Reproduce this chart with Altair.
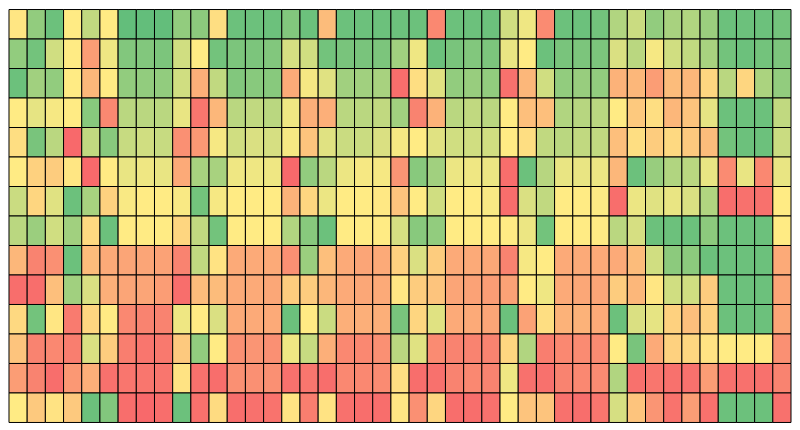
import altair as alt
import pandas as pd

# values on a 0..1 scale (0 = red, 0.5 = yellow, 1 = green), 14 rows x 43 columns
r0 = [0.48, 0.85, 0.97, 0.5, 0.7, 0.5, 1.0, 1.0, 1.0, 0.85, 0.87,
      0.45, 0.97, 0.97, 0.97, 0.9, 0.97, 0.32, 0.97, 0.97, 0.97, 0.97,
      0.97, 0.12, 0.97, 0.97, 0.97, 0.65, 0.55, 0.13, 0.97, 0.97, 0.95,
      0.75, 0.67, 0.85, 0.78, 0.75, 0.82, 0.97, 0.97, 0.97, 0.95]
r1 = [0.85, 0.95, 0.65, 0.5, 0.2, 0.55, 0.9, 0.9, 0.92, 0.65, 0.5,
      0.95, 0.92, 0.92, 0.9, 0.63, 0.65, 0.95, 0.93, 0.93, 0.92, 0.8,
      0.55, 0.97, 0.93, 0.9, 0.92, 0.57, 0.5, 0.97, 0.93, 0.92, 0.92,
      0.62, 0.72, 0.53, 0.65, 0.7, 0.78, 0.95, 0.97, 0.95, 0.92]
r2 = [0.97, 0.8, 0.85, 0.5, 0.3, 0.5, 0.85, 0.85, 0.85, 0.65, 0.27,
      0.7, 0.9, 0.88, 0.88, 0.25, 0.53, 0.6, 0.8, 0.8, 0.78, 0.02,
      0.45, 0.6, 0.85, 0.83, 0.85, 0.03, 0.3, 0.65, 0.85, 0.83, 0.85,
      0.28, 0.3, 0.2, 0.32, 0.3, 0.42, 0.72, 0.42, 0.77, 0.85]
r3 = [0.5, 0.58, 0.53, 0.5, 0.88, 0.12, 0.72, 0.72, 0.72, 0.57, 0.05,
      0.3, 0.72, 0.7, 0.72, 0.55, 0.27, 0.27, 0.72, 0.72, 0.7, 0.8,
      0.1, 0.28, 0.72, 0.7, 0.72, 0.5, 0.33, 0.33, 0.75, 0.73, 0.72,
      0.5, 0.37, 0.45, 0.3, 0.35, 0.58, 0.97, 0.97, 0.97, 0.7]
r4 = [0.45, 0.93, 0.72, 0.0, 0.7, 0.88, 0.68, 0.65, 0.68, 0.15, 0.18,
      0.53, 0.65, 0.62, 0.63, 0.53, 0.35, 0.6, 0.67, 0.67, 0.62, 0.53,
      0.5, 0.6, 0.65, 0.65, 0.65, 0.5, 0.45, 0.7, 0.72, 0.7, 0.7,
      0.33, 0.45, 0.38, 0.43, 0.37, 0.32, 0.95, 0.97, 0.97, 0.67]
r5 = [0.5, 0.4, 0.38, 0.48, 0.0, 0.5, 0.57, 0.55, 0.57, 0.25, 0.78,
      0.78, 0.55, 0.55, 0.55, 0.0, 0.85, 0.72, 0.56, 0.53, 0.53, 0.17,
      0.88, 0.8, 0.56, 0.55, 0.56, 0.02, 0.97, 0.73, 0.57, 0.57, 0.56,
      0.3, 0.97, 0.83, 0.75, 0.72, 0.57, 0.13, 0.57, 0.12, 0.57]
r6 = [0.67, 0.42, 0.6, 0.97, 0.78, 0.4, 0.52, 0.5, 0.5, 0.52, 0.95,
      0.53, 0.5, 0.5, 0.5, 0.28, 0.42, 0.56, 0.5, 0.5, 0.49, 0.35,
      0.5, 0.65, 0.5, 0.5, 0.52, 0.02, 0.62, 0.7, 0.5, 0.5, 0.51,
      0.02, 0.56, 0.6, 0.57, 0.62, 0.75, 0.02, 0.03, 0.03, 0.5]
r7 = [0.72, 0.82, 0.65, 0.8, 0.43, 0.97, 0.5, 0.5, 0.5, 0.42, 0.7,
      0.95, 0.5, 0.5, 0.5, 0.75, 0.88, 0.97, 0.5, 0.5, 0.5, 0.63,
      0.88, 0.85, 0.5, 0.5, 0.5, 0.5, 0.56, 0.95, 0.5, 0.5, 0.5,
      0.72, 0.63, 0.97, 0.97, 0.97, 0.87, 0.97, 0.97, 0.97, 0.5]
r8 = [0.3, 0.1, 0.15, 0.97, 0.32, 0.25, 0.23, 0.23, 0.22, 0.1, 0.7,
      0.47, 0.25, 0.25, 0.25, 0.15, 0.82, 0.33, 0.25, 0.23, 0.25, 0.4,
      0.62, 0.38, 0.25, 0.25, 0.24, 0.1, 0.53, 0.5, 0.25, 0.25, 0.25,
      0.25, 0.32, 0.65, 0.87, 0.87, 0.97, 0.97, 0.97, 0.97, 0.25]
r9 = [0.02, 0.02, 0.33, 0.8, 0.62, 0.27, 0.23, 0.23, 0.2, 0.02, 0.32,
      0.32, 0.25, 0.25, 0.24, 0.38, 0.38, 0.3, 0.25, 0.24, 0.25, 0.48,
      0.38, 0.35, 0.23, 0.22, 0.2, 0.22, 0.5, 0.55, 0.25, 0.24, 0.23,
      0.38, 0.3, 0.48, 0.65, 0.65, 0.38, 0.97, 0.97, 0.97, 0.23]
r10 = [0.43, 0.95, 0.48, 0.07, 0.42, 0.5, 0.12, 0.1, 0.1, 0.55, 0.5,
       0.62, 0.25, 0.25, 0.25, 0.97, 0.5, 0.67, 0.27, 0.27, 0.27, 0.93,
       0.42, 0.6, 0.25, 0.25, 0.23, 0.97, 0.22, 0.45, 0.28, 0.28, 0.25,
       0.97, 0.62, 0.58, 0.4, 0.33, 0.4, 0.97, 0.97, 0.97, 0.23]
r11 = [0.35, 0.1, 0.12, 0.08, 0.62, 0.38, 0.08, 0.05, 0.06, 0.37, 0.85,
       0.5, 0.15, 0.17, 0.15, 0.55, 0.68, 0.27, 0.12, 0.12, 0.15, 0.72,
       0.6, 0.13, 0.1, 0.1, 0.1, 0.42, 0.75, 0.08, 0.12, 0.13, 0.13,
       0.5, 0.93, 0.25, 0.4, 0.42, 0.47, 0.5, 0.5, 0.5, 0.15]
r12 = [0.2, 0.1, 0.02, 0.18, 0.27, 0.03, 0.05, 0.05, 0.05, 0.47, 0.03,
       0.02, 0.15, 0.15, 0.15, 0.03, 0.05, 0.02, 0.12, 0.12, 0.13, 0.45,
       0.02, 0.03, 0.1, 0.12, 0.1, 0.55, 0.03, 0.03, 0.1, 0.12, 0.13,
       0.75, 0.03, 0.05, 0.03, 0.03, 0.2, 0.03, 0.03, 0.03, 0.1]
r13 = [0.5, 0.37, 0.47, 0.37, 0.97, 0.9, 0.02, 0.0, 0.02, 0.97, 0.03,
       0.44, 0.02, 0.03, 0.04, 0.47, 0.08, 0.47, 0.03, 0.02, 0.02, 0.48,
       0.15, 0.42, 0.02, 0.02, 0.03, 0.5, 0.35, 0.35, 0.03, 0.02, 0.05,
       0.63, 0.35, 0.17, 0.04, 0.2, 0.03, 0.97, 0.97, 0.97, 0.03]

rows = [r0, r1, r2, r3, r4, r5, r6, r7, r8, r9, r10, r11, r12, r13]

records = []
for i, row in enumerate(rows):
    for j, v in enumerate(row):
        records.append({"row": i, "col": j, "v": v})
df = pd.DataFrame(records)

chart = (
    alt.Chart(df)
    .mark_rect(stroke="black", strokeWidth=1)
    .encode(
        x=alt.X("col:O", axis=None, scale=alt.Scale(paddingInner=0, paddingOuter=0)),
        y=alt.Y("row:O", axis=None, scale=alt.Scale(paddingInner=0, paddingOuter=0)),
        color=alt.Color(
            "v:Q",
            legend=None,
            scale=alt.Scale(domain=[0, 0.5, 1],
                            range=["#F8696B", "#FFEB84", "#63BE7B"],
                            interpolate="rgb"),
        ),
    )
    .properties(width=784, height=414, padding=0)
    .configure_view(stroke=None)
)

chart.save("out.html", embed_options={"renderer": "svg", "actions": False})
